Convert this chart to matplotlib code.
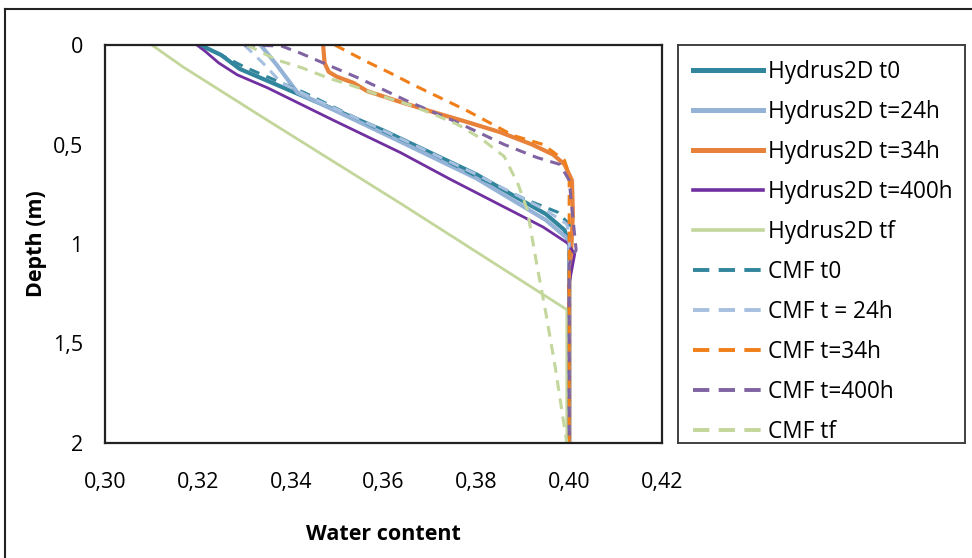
import matplotlib
matplotlib.use("Agg")
import matplotlib.pyplot as plt
from matplotlib.lines import Line2D

plt.rcParams['font.family'] = ['Open Sans', 'DejaVu Sans']

# ---- data (water content, depth in m) ----
h_t0_x = [0.3205, 0.325, 0.329, 0.335, 0.342, 0.360, 0.380, 0.395, 0.399, 0.400, 0.400]
h_t0_y = [0.00, 0.05, 0.12, 0.18, 0.25, 0.43, 0.65, 0.85, 0.93, 1.00, 2.00]

h_t24_x = [0.3335, 0.337, 0.3415, 0.360, 0.380, 0.395, 0.3995, 0.400, 0.400]
h_t24_y = [0.00, 0.10, 0.24, 0.445, 0.67, 0.88, 0.97, 1.00, 2.00]

h_t34_x = [0.347, 0.3473, 0.3482, 0.350, 0.3535, 0.3565, 0.3636, 0.3707, 0.378, 0.385, 0.392, 0.3965, 0.399, 0.4006, 0.4008, 0.4005, 0.400, 0.400]
h_t34_y = [0.00, 0.09, 0.135, 0.16, 0.19, 0.232, 0.286, 0.337, 0.387, 0.437, 0.50, 0.55, 0.60, 0.68, 0.85, 1.00, 1.20, 2.00]

h_t400_x = [0.3198, 0.3215, 0.3245, 0.3285, 0.335, 0.3491, 0.3636, 0.3744, 0.3944, 0.3996, 0.4012, 0.4008, 0.400, 0.400]
h_t400_y = [0.00, 0.03, 0.09, 0.15, 0.215, 0.377, 0.54, 0.675, 0.915, 0.995, 1.05, 1.10, 1.20, 2.00]

h_tf_x = [0.3101, 0.3168, 0.3349, 0.3636, 0.3995, 0.3995]
h_tf_y = [0.00, 0.11, 0.377, 0.795, 1.33, 2.00]

c_t0_x = [0.3205, 0.325, 0.330, 0.336, 0.343, 0.3593, 0.370, 0.380, 0.391, 0.3975, 0.400, 0.400]
c_t0_y = [0.00, 0.05, 0.11, 0.17, 0.24, 0.427, 0.54, 0.66, 0.78, 0.84, 0.90, 2.00]

c_t24_x = [0.330, 0.334, 0.338, 0.345, 0.360, 0.380, 0.395, 0.3995, 0.400, 0.400]
c_t24_y = [0.00, 0.09, 0.19, 0.27, 0.43, 0.65, 0.83, 0.90, 0.95, 2.00]

c_t34_x = [0.3495, 0.3565, 0.3614, 0.3664, 0.378, 0.388, 0.3944, 0.399, 0.400, 0.400]
c_t34_y = [0.00, 0.085, 0.14, 0.20, 0.33, 0.455, 0.50, 0.58, 0.65, 2.00]

c_t400_x = [0.330, 0.338, 0.342, 0.348, 0.355, 0.365, 0.376, 0.386, 0.393, 0.398, 0.400, 0.4015, 0.400, 0.400]
c_t400_y = [0.00, 0.005, 0.04, 0.10, 0.17, 0.28, 0.39, 0.50, 0.565, 0.60, 0.68, 1.03, 1.10, 2.00]

c_tf_x = [0.3306, 0.337, 0.3425, 0.348, 0.354, 0.360, 0.3655, 0.371, 0.376, 0.381, 0.386, 0.389, 0.391, 0.393, 0.395, 0.397, 0.3995]
c_tf_y = [0.00, 0.075, 0.115, 0.165, 0.21, 0.26, 0.30, 0.35, 0.40, 0.47, 0.56, 0.70, 0.83, 1.10, 1.35, 1.62, 2.00]

labels = ["Hydrus2D t0", "Hydrus2D t=24h", "Hydrus2D t=34h", "Hydrus2D t=400h", "Hydrus2D tf",
          "CMF t0", "CMF t = 24h", "CMF t=34h", "CMF t=400h", "CMF tf"]

x_ticks = [0.30, 0.32, 0.34, 0.36, 0.38, 0.40, 0.42]
x_ticklabels = ["0,30", "0,32", "0,34", "0,36", "0,38", "0,40", "0,42"]
y_ticks = [0, 0.5, 1, 1.5, 2]
y_ticklabels = ["0", "0,5", "1", "1,5", "2"]

# ---- figure ----
W, H = 972, 558
fig = plt.figure(figsize=(W / 100, H / 100), dpi=100)

def fbox(x0, y0, x1, y1):
    return [x0 / W, 1 - y1 / H, (x1 - x0) / W, (y1 - y0) / H]

ax = fig.add_axes(fbox(105, 45, 662, 443))

series = [
    (h_t0_x, h_t0_y, '#31859C', 3.0, '-'),
    (h_t24_x, h_t24_y, '#95B3D7', 3.0, '-'),
    (h_t34_x, h_t34_y, '#E8823A', 3.0, '-'),
    (h_t400_x, h_t400_y, '#7030A0', 2.0, '-'),
    (h_tf_x, h_tf_y, '#C3D69B', 2.0, '-'),
    (c_t0_x, c_t0_y, '#31859C', 2.2, '--'),
    (c_t24_x, c_t24_y, '#A7C0E0', 2.2, '--'),
    (c_t34_x, c_t34_y, '#F07F1A', 2.2, '--'),
    (c_t400_x, c_t400_y, '#8064A2', 2.2, '--'),
    (c_tf_x, c_tf_y, '#C3D69B', 2.2, '--'),
]

for (xs, ys, col, lw, ls), lab in zip(series, labels):
    if ls == '--':
        ax.plot(xs, ys, color=col, lw=lw, dashes=(3.5, 2.5), label=lab)
    else:
        ax.plot(xs, ys, color=col, lw=lw, label=lab, solid_joinstyle='round')

ax.set_xlim(0.30, 0.42)
ax.set_ylim(2, 0)
ax.set_xticks(x_ticks)
ax.set_xticklabels(x_ticklabels)
ax.set_yticks(y_ticks)
ax.set_yticklabels(y_ticklabels)
ax.tick_params(axis='both', length=0, labelsize=15.5, colors='#000000')
ax.tick_params(axis='x', pad=21)
ax.tick_params(axis='y', pad=16)
for sp in ax.spines.values():
    sp.set_color('#222222')
    sp.set_linewidth(1.6)

ax.set_xlabel("Water content", fontsize=15.5, fontweight='bold', labelpad=22)
ax.set_ylabel("Depth (m)", fontsize=15.5, fontweight='bold', labelpad=4)

# legend box
lax = fig.add_axes(fbox(678, 45, 965, 443))
lax.set_xticks([])
lax.set_yticks([])
for sp in lax.spines.values():
    sp.set_color('#404040')
    sp.set_linewidth(1.4)
leg_handles = []
for (xs, ys, col, lw, ls), lab in zip(series, labels):
    if ls == '--':
        leg_handles.append(Line2D([], [], color=col, lw=lw + 0.6, dashes=(4.2, 2.4)))
    else:
        leg_handles.append(Line2D([], [], color=col, lw=lw + 0.6))
lax.legend(leg_handles, labels, loc='upper left', bbox_to_anchor=(0.0, 1.0),
           frameon=False, fontsize=16.3, handlelength=3.1, handletextpad=0.22,
           labelspacing=0.71, borderaxespad=0.25, borderpad=0.4)

# outer frame (top and left edges visible)
fig.add_artist(Line2D([5 / W, 1.0], [1 - 9 / H, 1 - 9 / H], color='#222222', lw=1.5))
fig.add_artist(Line2D([5 / W, 5 / W], [0.0, 1 - 9 / H], color='#222222', lw=1.5))

fig.savefig("out.png", dpi=100)
